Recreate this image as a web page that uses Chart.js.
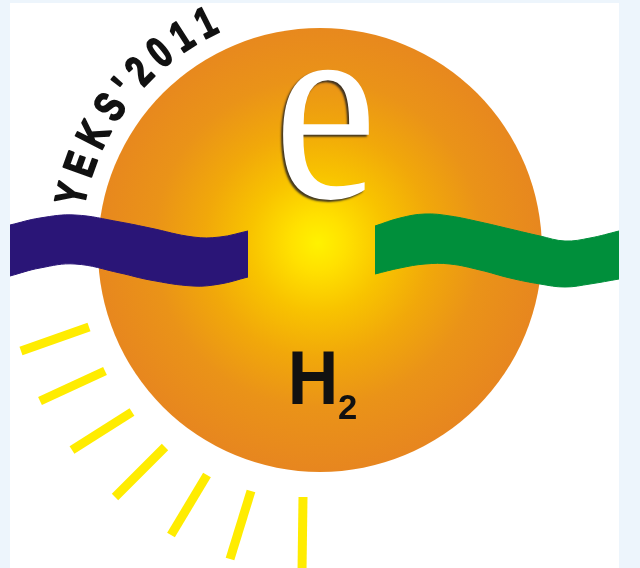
<!DOCTYPE html>
<html>
<head>
<meta charset="utf-8">
<script src="https://cdn.jsdelivr.net/npm/chart.js@4.4.1/dist/chart.umd.min.js"></script>
<style>
  html, body { margin: 0; padding: 0; background: #edf5fc; overflow: hidden; }
  #painel { position: absolute; left: 10px; top: 3px; width: 609px; height: 565px; background: #ffffff; }
  #logo { display: block; }
</style>
</head>
<body>
<div id="painel"><canvas id="logo" width="609" height="565"></canvas></div>
<script>
// Dados do logo (unidades do eixo)
const esfera = [{ x: 320, y: 250, r: 222 }];

const azulX = [10, 40, 75, 120, 150, 193, 220, 248];
const azulTopo = [225, 218, 215, 222, 228, 237, 237, 231];
const azulBase = [276, 268, 264, 273, 280, 286, 284, 277];

const verdeX = [375, 400, 425, 450, 480, 510, 540, 565, 590, 619];
const verdeTopo = [226, 218, 214, 216, 222, 229, 236, 241, 238, 231];
const verdeBase = [274, 268, 264, 264, 270, 278, 284, 287, 284, 279];

// raios: ponto interno -> ponto externo
const raioInterno = [[89, 327], [105, 371], [132, 412], [165, 447], [207, 475], [251, 491], [303, 497]];
const raioExterno = [[21, 351], [40, 401], [72, 450], [115, 497], [171, 535], [230, 559], [302, 572]];

const tituloArco = "YEKS'2011";

const pontos = (xs, ys) => xs.map((x, i) => ({ x: x, y: ys[i] }));

// Texto: configuracao
const glifos = [
    { texto: 'e', fonte: '100px "Liberation Serif", "DejaVu Serif", serif', caixa: [281, 369, 70, 200], cor: '#ffffff', sombra: 'rgba(45,40,35,0.9)' },
    { texto: 'H', fonte: 'bold 100px "Liberation Sans", Arial, sans-serif', caixa: [292, 334, 351, 404], cor: '#111111' },
    { texto: '2', fonte: 'bold 100px "Liberation Sans", Arial, sans-serif', caixa: [339, 356, 394, 419], cor: '#111111' }
];
const arco = { cx: 320, cy: 250, r: 240, de: 192.7, ate: 243.3, fonte: 'bold 43px "Liberation Sans", Arial, sans-serif', escalaX: 0.74, cor: '#111111' };

const textoLogo = {
    id: 'textoLogo',
    afterDatasetsDraw(chart) {
        const ctx = chart.ctx;
        const sx = chart.scales.x, sy = chart.scales.y;
        const px = v => sx.getPixelForValue(v);
        const py = v => sy.getPixelForValue(v);

        // letras ajustadas a uma caixa
        glifos.forEach(g => {
            ctx.save();
            ctx.font = g.fonte;
            ctx.textAlign = 'left';
            ctx.textBaseline = 'alphabetic';
            const m = ctx.measureText(g.texto);
            const w = m.actualBoundingBoxLeft + m.actualBoundingBoxRight;
            const h = m.actualBoundingBoxAscent + m.actualBoundingBoxDescent;
            const x0 = px(g.caixa[0]), x1 = px(g.caixa[1]);
            const y0 = py(g.caixa[2]), y1 = py(g.caixa[3]);
            if (g.sombra) {
                ctx.shadowColor = g.sombra;
                ctx.shadowOffsetX = -2;
                ctx.shadowOffsetY = 2;
                ctx.shadowBlur = 2;
            }
            ctx.translate(x0, y0);
            ctx.scale((x1 - x0) / w, (y1 - y0) / h);
            ctx.fillStyle = g.cor;
            ctx.fillText(g.texto, m.actualBoundingBoxLeft, m.actualBoundingBoxAscent);
            ctx.restore();
        });

        // texto em arco
        const cx = px(arco.cx), cy = py(arco.cy);
        const R = px(arco.cx + arco.r) - px(arco.cx);
        const chars = tituloArco.split('');
        ctx.save();
        ctx.font = arco.fonte;
        ctx.fillStyle = arco.cor;
        ctx.strokeStyle = arco.cor;
        ctx.lineWidth = 2;
        ctx.lineJoin = 'round';
        ctx.textAlign = 'center';
        ctx.textBaseline = 'alphabetic';
        const larg = chars.map(c => ctx.measureText(c).width * arco.escalaX);
        const ini = arco.de * Math.PI / 180, fim = arco.ate * Math.PI / 180;
        const L = R * (fim - ini);
        let soma = larg[0] / 2 + larg[larg.length - 1] / 2;
        for (let i = 1; i < larg.length - 1; i++) soma += larg[i];
        const gap = (L - soma) / (chars.length - 1);
        let s = 0;
        chars.forEach((c, i) => {
            if (i > 0) s += larg[i - 1] / 2 + gap + larg[i] / 2;
            const t = ini + s / R;
            ctx.save();
            ctx.translate(cx + R * Math.cos(t), cy + R * Math.sin(t));
            ctx.rotate(t + Math.PI / 2);
            ctx.scale(arco.escalaX, 1);
            ctx.fillText(c, 0, 0);
            ctx.strokeText(c, 0, 0);
            ctx.restore();
        });
        ctx.restore();
    }
};

function gradienteEsfera(context) {
    const chart = context.chart;
    if (!chart.chartArea) return '#e8891f';
    const sx = chart.scales.x, sy = chart.scales.y;
    const gx = sx.getPixelForValue(318), gy = sy.getPixelForValue(243);
    const g = chart.ctx.createRadialGradient(gx, gy, 0, gx, gy, 228);
    g.addColorStop(0, '#fff200');
    g.addColorStop(0.12, '#ffe100');
    g.addColorStop(0.3, '#f8c300');
    g.addColorStop(0.5, '#f1a80a');
    g.addColorStop(0.72, '#ea9318');
    g.addColorStop(1, '#e7861f');
    return g;
}

const datasets = [
    { type: 'bubble', data: esfera, backgroundColor: gradienteEsfera, borderWidth: 0, order: 5 },
    { type: 'line', data: pontos(azulX, azulTopo), borderColor: '#2a1577', borderWidth: 1, backgroundColor: '#2a1577', fill: '+1', pointRadius: 0, tension: 0.4, order: 2 },
    { type: 'line', data: pontos(azulX, azulBase), borderColor: '#2a1577', borderWidth: 1, fill: false, pointRadius: 0, tension: 0.4, order: 2 },
    { type: 'line', data: pontos(verdeX, verdeTopo), borderColor: '#008f3b', borderWidth: 1, backgroundColor: '#008f3b', fill: '+1', pointRadius: 0, tension: 0.4, order: 2 },
    { type: 'line', data: pontos(verdeX, verdeBase), borderColor: '#008f3b', borderWidth: 1, fill: false, pointRadius: 0, tension: 0.4, order: 2 }
];
raioInterno.forEach((p, i) => {
    datasets.push({
        type: 'line',
        data: [{ x: p[0], y: p[1] }, { x: raioExterno[i][0], y: raioExterno[i][1] }],
        borderColor: '#ffec00', borderWidth: 9, borderCapStyle: 'butt',
        pointRadius: 0, fill: false, order: 3
    });
});

new Chart(document.getElementById('logo'), {
    type: 'scatter',
    data: { datasets: datasets },
    options: {
        responsive: false,
        animation: false,
        layout: { padding: 0, autoPadding: false },
        events: [],
        scales: {
            x: { type: 'linear', min: 10, max: 619, display: false },
            y: { type: 'linear', min: 3, max: 568, reverse: true, display: false }
        },
        plugins: {
            legend: { display: false },
            tooltip: { enabled: false }
        }
    },
    plugins: [textoLogo]
});
</script>
</body>
</html>
